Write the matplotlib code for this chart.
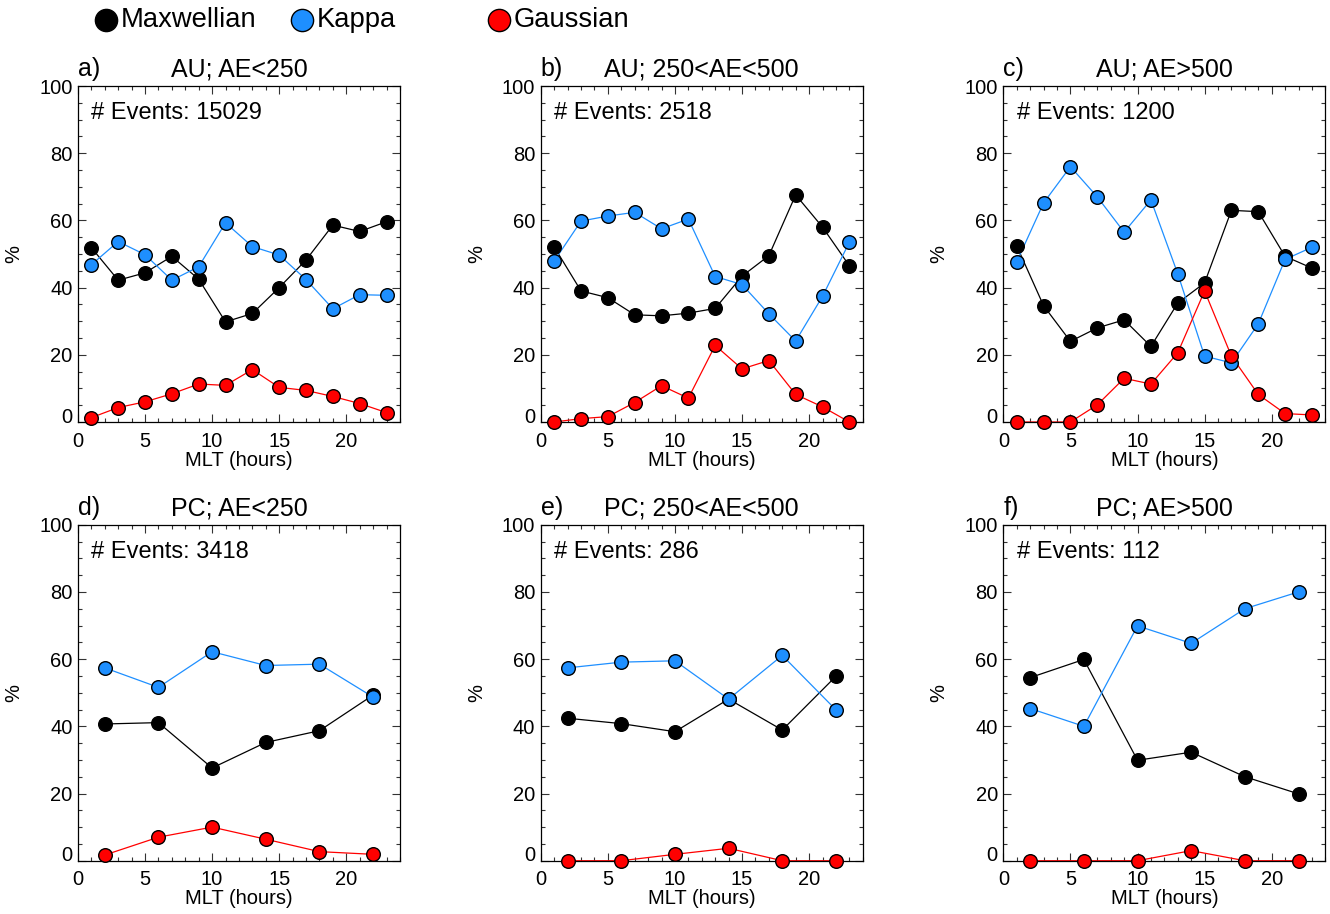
import numpy as np
import matplotlib
matplotlib.use("Agg")
import matplotlib.pyplot as plt
from matplotlib.lines import Line2D
from matplotlib.transforms import ScaledTranslation

plt.rcParams['font.family'] = ['Liberation Sans', 'DejaVu Sans']

# MLT bins: AU events use 2-hour bins, PC events use 4-hour bins
mlt_au = [1, 3, 5, 7, 9, 11, 13, 15, 17, 19, 21, 23]
mlt_pc = [2, 6, 10, 14, 18, 22]

# percentage of events best fit by each distribution
maxw_au_low = [51.9, 42.2, 44.4, 49.3, 42.5, 29.8, 32.3, 40.0, 48.2, 58.6, 56.7, 59.6]
kappa_au_low = [46.8, 53.7, 49.8, 42.2, 46.2, 59.3, 52.2, 49.7, 42.4, 33.7, 37.9, 37.7]
gauss_au_low = [1.3, 4.3, 6.0, 8.4, 11.3, 10.9, 15.6, 10.3, 9.4, 7.6, 5.5, 2.8]

maxw_au_mid = [52.1, 39.0, 37.0, 31.9, 31.6, 32.4, 33.8, 43.4, 49.5, 67.6, 58.0, 46.5]
kappa_au_mid = [47.9, 59.8, 61.3, 62.4, 57.5, 60.4, 43.3, 40.9, 32.2, 24.1, 37.4, 53.5]
gauss_au_mid = [0.0, 1.0, 1.6, 5.8, 10.8, 7.1, 22.8, 15.8, 18.3, 8.2, 4.5, 0.0]

maxw_au_high = [52.4, 34.6, 24.0, 28.0, 30.4, 22.5, 35.4, 41.4, 63.0, 62.6, 49.3, 45.8]
kappa_au_high = [47.7, 65.2, 76.0, 67.0, 56.5, 66.1, 44.1, 19.6, 17.6, 29.2, 48.4, 52.0]
gauss_au_high = [0.0, 0.0, 0.0, 5.1, 13.0, 11.3, 20.6, 39.0, 19.6, 8.2, 2.5, 2.1]

maxw_pc_low = [40.7, 41.1, 27.6, 35.2, 38.7, 49.3]
kappa_pc_low = [57.4, 51.6, 62.2, 58.1, 58.5, 48.7]
gauss_pc_low = [1.7, 7.0, 10.0, 6.4, 2.7, 1.9]

maxw_pc_mid = [42.4, 40.8, 38.4, 48.1, 38.9, 54.9]
kappa_pc_mid = [57.4, 59.1, 59.5, 48.1, 61.1, 44.9]
gauss_pc_mid = [0.0, 0.0, 1.9, 3.7, 0.0, 0.0]

maxw_pc_high = [54.5, 59.9, 29.9, 32.3, 25.0, 19.9]
kappa_pc_high = [45.3, 40.0, 69.9, 64.7, 75.0, 80.0]
gauss_pc_high = [0.0, 0.0, 0.0, 3.0, 0.0, 0.0]

panel_letters = ['a)', 'b)', 'c)', 'd)', 'e)', 'f)']
panel_titles = ['AU; AE<250', 'AU; 250<AE<500', 'AU; AE>500',
                'PC; AE<250', 'PC; 250<AE<500', 'PC; AE>500']
n_events = [15029, 2518, 1200, 3418, 286, 112]

BLUE = '#1E8FFF'
RED = '#FF0000'

panels = [
    (mlt_au, maxw_au_low, kappa_au_low, gauss_au_low),
    (mlt_au, maxw_au_mid, kappa_au_mid, gauss_au_mid),
    (mlt_au, maxw_au_high, kappa_au_high, gauss_au_high),
    (mlt_pc, maxw_pc_low, kappa_pc_low, gauss_pc_low),
    (mlt_pc, maxw_pc_mid, kappa_pc_mid, gauss_pc_mid),
    (mlt_pc, maxw_pc_high, kappa_pc_high, gauss_pc_high),
]

fig = plt.figure(figsize=(13.3, 9.14), dpi=100)

lefts = [0.0586, 0.4066, 0.7544]
bottoms = [0.5383, 0.0583]
width, height = 0.2421, 0.3676


def draw_series(ax, x, y, color):
    ax.plot(x, y, '-', color=color, lw=0.9, zorder=2, clip_on=False)
    ax.plot(x, y, 'o', ms=9.8, mfc=color, mec='black', mew=1.0, zorder=3,
            clip_on=False)


for i, (x, maxw, kappa, gauss) in enumerate(panels):
    ax = fig.add_axes([lefts[i % 3], bottoms[i // 3], width, height])
    draw_series(ax, x, maxw, 'black')
    draw_series(ax, x, kappa, BLUE)
    draw_series(ax, x, gauss, RED)

    ax.set_xlim(0, 24)
    ax.set_ylim(0, 100)
    ax.set_xticks([0, 5, 10, 15, 20])
    ax.set_xticks(np.arange(0, 25, 1), minor=True)
    ax.set_yticks([0, 20, 40, 60, 80, 100])
    ax.set_yticks(np.arange(0, 101, 5), minor=True)
    ax.tick_params(which='both', direction='in', top=True, right=True,
                   labelsize=14.5, width=0.8, color='#333333')
    ax.tick_params(which='major', length=6)
    ax.tick_params(which='minor', length=3)
    ax.tick_params(axis='x', pad=7)
    ax.tick_params(axis='y', pad=4)
    for sp in ax.spines.values():
        sp.set_linewidth(0.9)

    # lift the zero label off the x axis
    zero_lbl = ax.get_yticklabels()[0]
    zero_lbl.set_transform(zero_lbl.get_transform() +
                           ScaledTranslation(0, 5 / 72, fig.dpi_scale_trans))

    ax.set_xlabel('MLT (hours)', fontsize=14.5)
    ax.xaxis.set_label_coords(0.5, -0.085)
    ax.set_ylabel('%', fontsize=14.5)
    ax.yaxis.set_label_coords(-0.17, 0.5)

    ax.set_title(panel_titles[i], fontsize=18, pad=7)
    ax.set_title(panel_letters[i], loc='left', fontsize=18, pad=7)
    ax.text(0.042, 0.902, f'# Events: {n_events[i]}', transform=ax.transAxes,
            fontsize=17, va='baseline', ha='left')

# legend row across the top
legend_items = [('Maxwellian', 'black', 106, 121),
                ('Kappa', BLUE, 302, 317),
                ('Gaussian', RED, 499, 514)]
for name, color, xm, xt in legend_items:
    yf = 1 - 20 / 914
    fig.add_artist(Line2D([xm / 1330], [yf], transform=fig.transFigure,
                          marker='o', ms=16, mfc=color, mec='black', mew=1.0,
                          ls='none'))
    fig.text(xt / 1330, yf, name, fontsize=19.7, va='center', ha='left')

fig.savefig('out.png', dpi=100)
